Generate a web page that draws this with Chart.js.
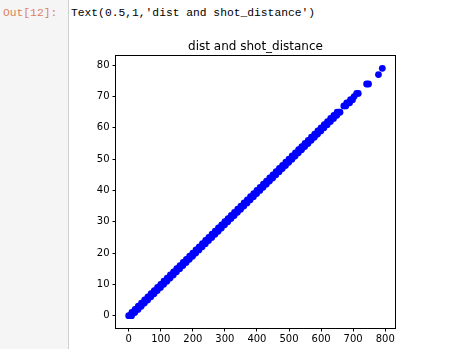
<!DOCTYPE html>
<html>
<head>
<meta charset="utf-8">
<script src="https://cdn.jsdelivr.net/npm/chart.js@4/dist/chart.umd.min.js"></script>
<style>
  html, body { margin: 0; padding: 0; background: #fff; width: 464px; height: 349px; overflow: hidden; }
  #pane { position: absolute; left: 0; top: 0; width: 68px; height: 349px; background: #f5f5f5; border-right: 1px solid #cfcfcf; }
  #prompt { position: absolute; left: 3px; top: 5px; font-family: "Liberation Mono", "DejaVu Sans Mono", monospace; font-size: 11.3px; color: #e0805e; line-height: 16px; white-space: pre; }
  #outtext { position: absolute; left: 71px; top: 5px; font-family: "Liberation Mono", "DejaVu Sans Mono", monospace; font-size: 11.3px; color: #000; line-height: 16px; white-space: pre; }
  #c { position: absolute; left: 70px; top: 30px; }
</style>
</head>
<body>
<div id="pane"></div>
<div id="prompt">Out[12]:</div>
<div id="outtext">Text(0.5,1,'dist and shot_distance')</div>
<canvas id="c" width="394" height="319" style="width:394px;height:319px"></canvas>
<script>
const chartTitle = 'dist and shot_distance';
const xTickValues = [0, 100, 200, 300, 400, 500, 600, 700, 800];
const yTickValues = [0, 10, 20, 30, 40, 50, 60, 70, 80];

const dist = [
  0, 4, 9, 10, 15, 19, 20, 24, 29, 30, 35, 39, 40, 44, 49, 50, 55, 59, 60, 64, 69,
  70, 75, 79, 80, 84, 89, 90, 95, 99, 100, 104, 109, 110, 115, 119, 120, 125, 129,
  130, 135, 139, 140, 144, 149, 150, 154, 159, 160, 165, 169, 170, 174, 179,
  180, 185, 189, 190, 194, 199, 200, 205, 209, 210, 214, 219, 220, 225, 229,
  230, 236, 239, 240, 244, 249, 250, 255, 259, 260, 264, 269, 270, 275, 279,
  280, 285, 289, 290, 294, 299, 300, 305, 309, 310, 314, 319, 320, 326, 329,
  330, 334, 339, 340, 345, 349, 350, 355, 359, 360, 364, 369, 370, 375, 379,
  380, 384, 389, 390, 395, 399, 400, 404, 409, 410, 415, 419, 420, 424, 429,
  430, 435, 439, 440, 445, 449, 450, 454, 459, 460, 465, 469, 470, 474, 479,
  480, 485, 489, 490, 495, 499, 500, 504, 509, 510, 515, 519, 520, 525, 529,
  530, 534, 539, 540, 545, 549, 550, 555, 559, 560, 564, 569, 570, 575, 579,
  580, 586, 589, 590, 594, 599, 600, 605, 609, 610, 614, 619, 620, 625, 629,
  630, 634, 639, 640, 645, 649, 650, 655, 659,
  671, 677, 680, 685, 689, 692, 698, 703, 711, 716,
  742, 748, 779, 791
];
const shotDistance = [
  0, 0, 0, 1, 1, 1, 2, 2, 2, 3, 3, 3, 4, 4, 4, 5, 5, 5, 6, 6, 6,
  7, 7, 7, 8, 8, 8, 9, 9, 9, 10, 10, 10, 11, 11, 11, 12, 12, 12,
  13, 13, 13, 14, 14, 14, 15, 15, 15, 16, 16, 16, 17, 17, 17,
  18, 18, 18, 19, 19, 19, 20, 20, 20, 21, 21, 21, 22, 22, 22,
  23, 23, 23, 24, 24, 24, 25, 25, 25, 26, 26, 26, 27, 27, 27,
  28, 28, 28, 29, 29, 29, 30, 30, 30, 31, 31, 31, 32, 32, 32,
  33, 33, 33, 34, 34, 34, 35, 35, 35, 36, 36, 36, 37, 37, 37,
  38, 38, 38, 39, 39, 39, 40, 40, 40, 41, 41, 41, 42, 42, 42,
  43, 43, 43, 44, 44, 44, 45, 45, 45, 46, 46, 46, 47, 47, 47,
  48, 48, 48, 49, 49, 49, 50, 50, 50, 51, 51, 51, 52, 52, 52,
  53, 53, 53, 54, 54, 54, 55, 55, 55, 56, 56, 56, 57, 57, 57,
  58, 58, 58, 59, 59, 59, 60, 60, 60, 61, 61, 61, 62, 62, 62,
  63, 63, 63, 64, 64, 64, 65, 65, 65,
  67, 67, 68, 68, 68, 69, 69, 70, 71, 71,
  74, 74, 77, 79
];

const points = dist.map((d, i) => ({ x: d, y: shotDistance[i] }));

const framePlugin = {
  id: 'frame',
  afterDatasetsDraw(chart) {
    const { ctx, chartArea: a } = chart;
    ctx.save();
    ctx.strokeStyle = '#000';
    ctx.lineWidth = 1;
    ctx.strokeRect(Math.round(a.left) - 0.5, Math.round(a.top) - 0.5,
                   Math.round(a.right - a.left) + 1, Math.round(a.bottom - a.top) + 1);
    ctx.restore();
  }
};

const tickFont = { family: '"DejaVu Sans", sans-serif', size: 10 };

new Chart(document.getElementById('c'), {
  type: 'scatter',
  data: {
    datasets: [{
      label: 'dist vs shot_distance',
      data: points,
      backgroundColor: '#0000ff',
      borderColor: '#0000ff',
      borderWidth: 0,
      pointRadius: 3.4,
      pointHoverRadius: 3.4
    }]
  },
  options: {
    responsive: false,
    animation: false,
    devicePixelRatio: 1,
    layout: { padding: { left: 0, right: 69, top: 0, bottom: 0 } },
    plugins: {
      legend: { display: false },
      tooltip: { enabled: false },
      title: {
        display: true,
        text: chartTitle,
        fullSize: false,
        color: '#000',
        font: { family: '"DejaVu Sans", sans-serif', size: 12, weight: 'normal', lineHeight: 1.2 },
        padding: { top: 9.6, bottom: 2 }
      }
    },
    scales: {
      x: {
        type: 'linear',
        min: -39.55,
        max: 830.55,
        afterBuildTicks: s => { s.ticks = xTickValues.map(v => ({ value: v })); },
        afterFit: s => { s.height = 21; },
        border: { display: false },
        grid: { drawOnChartArea: false, drawTicks: true, tickLength: 3.5, color: '#000', lineWidth: 1 },
        ticks: { color: '#000', font: tickFont, padding: 2, maxRotation: 0, autoSkip: false }
      },
      y: {
        type: 'linear',
        min: -3.95,
        max: 82.95,
        afterBuildTicks: s => { s.ticks = yTickValues.map(v => ({ value: v })); },
        afterFit: s => { s.width = 46; },
        border: { display: false },
        grid: { drawOnChartArea: false, drawTicks: true, tickLength: 3.5, color: '#000', lineWidth: 1 },
        ticks: { color: '#000', font: tickFont, padding: 3, autoSkip: false }
      }
    }
  },
  plugins: [framePlugin]
});
</script>
</body>
</html>
